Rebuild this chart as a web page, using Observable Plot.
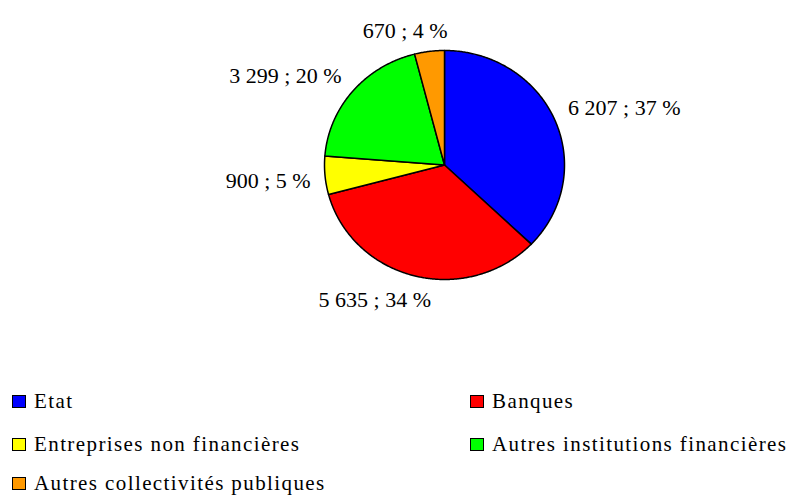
<!DOCTYPE html>
<html><head><meta charset="utf-8">
<script src="https://cdn.jsdelivr.net/npm/d3@7"></script>
<script src="https://cdn.jsdelivr.net/npm/@observablehq/plot@0.6"></script>
<style>
html,body{margin:0;padding:0;background:#fff;}
body{width:803px;height:497px;overflow:hidden;font-family:'Liberation Serif',Tinos,'DejaVu Serif',serif;}
#legend{display:grid;grid-template-columns:458px 333px;padding-left:12px;}
.item{height:43px;display:flex;align-items:center;font-size:21px;letter-spacing:1.4px;color:#000;white-space:nowrap;}
.item:nth-child(n+5){height:34px;}
.sw{width:12px;height:11px;border:1.5px solid #000;margin-right:8px;flex:none;}
</style></head>
<body>
<div id="chart"></div>
<div id="legend"></div>
<script>
const categories = ["Etat", "Banques", "Entreprises non financières", "Autres institutions financières", "Autres collectivités publiques"];
const values = [6207, 5635, 900, 3299, 670];
const labels = ["6 207 ; 37 %", "5 635 ; 34 %", "900 ; 5 %", "3 299 ; 20 %", "670 ; 4 %"];
const colors = ["#0000ff", "#ff0000", "#ffff00", "#00ff00", "#ff9900"];

const FONT = "'Liberation Serif', Tinos, 'DejaVu Serif', serif";
const total = d3.sum(values);
const slices = [];
const labelData = [];
let start = 0;
categories.forEach((c, i) => {
  const a0 = start * 2 * Math.PI / total;
  const a1 = (start + values[i]) * 2 * Math.PI / total;
  start += values[i];
  slices.push({cat: c, x: 0, y: 0});
  const n = Math.max(2, Math.ceil((a1 - a0) / (Math.PI / 360)));
  for (let k = 0; k <= n; k++) {
    const a = a0 + (a1 - a0) * k / n;
    slices.push({cat: c, x: Math.sin(a), y: Math.cos(a)});
  }
  slices.push({cat: c, x: 0, y: 0});
  const m = (a0 + a1) / 2, s = Math.sin(m), co = Math.cos(m);
  const r = 1.12;
  labelData.push({
    text: labels[i], x: r * s, y: r * co,
    anchor: s > 0.3 ? "start" : "end",
    dx: Math.abs(s) <= 0.3 ? 20 : 0,
    line: co > 0.3 ? "bottom" : co < -0.3 ? "top" : "middle"
  });
});

const color = {domain: categories, range: colors};
const combos = [];
labelData.forEach(d => { if (!combos.some(c => c[0] === d.anchor && c[1] === d.line && c[2] === d.dx)) combos.push([d.anchor, d.line, d.dx]); });
const textMark = ([anchor, line, dx]) => Plot.text(labelData.filter(d => d.anchor === anchor && d.line === line && d.dx === dx), {
  x: "x", y: "y", text: "text", textAnchor: anchor, lineAnchor: line, dx,
  dy: line === "middle" ? 4 : line === "top" ? 2 : 0,
  fontSize: 22, fill: "#000", fontFamily: FONT
});

const plot = Plot.plot({
  width: 803, height: 380,
  margin: 0,
  x: {domain: [-1, 1], range: [324, 564], axis: null},
  y: {domain: [-1, 1], range: [279, 50], axis: null},
  color,
  style: {fontFamily: FONT, background: "#fff", overflow: "visible"},
  marks: [
    Plot.line(slices, {x: "x", y: "y", z: "cat", fill: "cat", stroke: "#000", strokeWidth: 1.5, strokeLinejoin: "round", curve: "linear"}),
    ...combos.map(textMark)
  ]
});
document.getElementById("chart").appendChild(plot);

const leg = document.getElementById("legend");
categories.forEach((c, i) => {
  const it = document.createElement("div");
  it.className = "item";
  const sw = document.createElement("span");
  sw.className = "sw";
  sw.style.background = colors[i];
  it.appendChild(sw);
  it.appendChild(document.createTextNode(c));
  leg.appendChild(it);
});
</script>
</body></html>
